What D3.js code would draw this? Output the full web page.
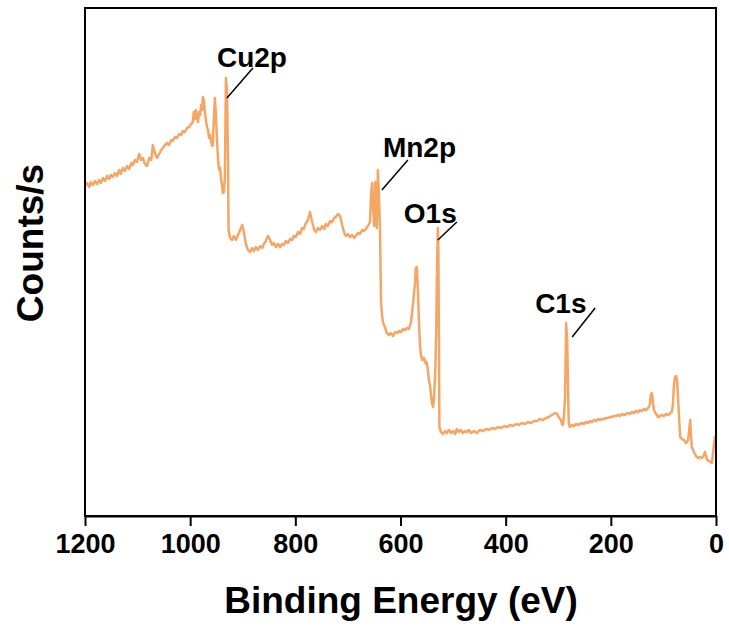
<!DOCTYPE html>
<html><head><meta charset="utf-8">
<script src="https://cdn.jsdelivr.net/npm/d3@7"></script>
<style>body{margin:0;background:#fff}svg{display:block}</style>
</head><body>
<svg id="c" width="729" height="632"></svg>
<script>
// Binding energy (eV)
const energy = [1200,1196,1192,1189,1185,1181,1177,1173,1170,1166,1162,1158,1154,1151,1147,1143,1139,1135,1132,1128,1124,1120,1116,1112,1109,1105,1101,1097,1093,1090,1086,1082,1078,1074,1071,1067,1063,1059,1055,1052,1048,1044,1040,1036,1033,1029,1025,1021,1017,1014,1010,1006,1002,998,995,993,991,989,987,985,983,981,979,977,976,974,972,970,968,966,964,962,960,958,957,955,953,951,949,947,945,943,941,939,938,936,934,932,930,928,927,924,920,917,913,909,905,901,898,894,890,886,882,879,875,871,867,863,860,856,852,848,844,841,837,833,829,825,822,818,814,810,806,803,799,795,791,787,784,780,776,772,768,764,761,757,753,749,745,742,738,734,730,726,723,719,715,711,707,704,700,696,692,688,685,681,677,673,669,666,662,658,656,654,652,650,648,647,645,643,641,639,637,635,633,629,626,622,618,614,610,607,603,599,595,591,588,584,580,576,572,571,569,567,565,563,561,559,555,552,550,548,546,544,542,540,538,536,534,532,531,529,528,527,526,523,519,515,512,508,504,500,496,493,489,485,481,477,474,470,466,460,455,449,443,437,432,426,420,415,409,403,397,392,386,380,375,369,363,358,352,346,340,335,329,323,318,312,306,302,299,295,293,291,289,287,285,283,281,280,278,274,270,266,262,259,255,251,247,243,240,236,232,228,224,221,217,213,209,205,202,198,194,190,186,183,179,175,171,167,164,160,156,152,148,145,141,137,133,129,126,124,122,120,118,114,110,106,103,99,95,91,87,84,82,80,78,76,74,72,70,68,65,61,57,53,51,49,48,46,42,38,34,30,27,25,23,21,19,17,13,10,8,6,4,2,0];
// Intensity (counts/s, arbitrary scale)
const counts = [330,333,329,334,331,335,332,336,333,338,335,340,337,341,339,343,340,346,342,348,345,350,347,353,351,356,354,362,356,358,352,350,358,356,371,363,358,362,366,368,371,373,371,376,375,379,378,382,381,385,384,388,389,392,394,404,397,406,398,394,404,401,411,406,419,416,404,396,389,386,378,381,374,370,371,396,418,401,376,356,346,348,336,329,323,324,338,438,426,356,286,278,276,280,276,281,286,291,284,272,266,264,268,265,269,266,270,268,272,275,280,276,271,273,269,272,269,272,271,275,273,277,276,280,279,284,282,288,287,293,296,304,294,286,284,288,286,290,287,292,290,295,294,298,299,302,300,291,283,280,282,279,281,278,280,283,282,286,285,287,290,294,321,333,306,290,334,311,288,346,321,288,213,200,193,188,183,181,183,180,184,183,185,184,187,186,188,187,194,213,236,248,249,226,196,171,161,156,158,152,154,146,136,131,121,113,109,121,143,186,236,288,266,186,89,84,82,85,83,86,83,85,82,87,84,86,83,85,84,86,83,85,83,86,85,87,86,88,87,89,88,90,89,91,90,92,91,93,92,94,93,95,95,97,96,98,99,101,103,102,99,96,92,91,101,119,193,176,116,93,89,91,90,92,91,92,93,92,94,93,95,94,96,95,97,96,97,97,98,98,99,99,100,100,101,100,102,101,102,103,102,104,103,105,104,106,105,107,106,108,111,121,123,114,106,102,99,100,101,100,102,101,103,104,111,131,139,140,136,116,96,79,77,76,73,76,86,96,84,69,64,60,58,59,58,59,61,64,60,56,55,54,53,61,71,79,79];
const xTicks = [1200,1000,800,600,400,200,0];
const peakNames = ["Cu2p","Mn2p","O1s","C1s"];
const peakEnergy = [932,643,529,285];

const svg = d3.select("#c");
const L=85,R=716,T=8,B=516;
const x = d3.scaleLinear().domain([1200,0]).range([L,R]);
const y = d3.scaleLinear().domain([0,508]).range([B,T]);
const data = energy.map((e,i)=>({e,c:counts[i]}));

svg.append("path").datum(data)
  .attr("fill","none").attr("stroke","#F5A665").attr("stroke-width",2.5)
  .attr("stroke-linejoin","round")
  .attr("d", d3.line().x(d=>x(d.e)).y(d=>y(d.c)));

// frame
svg.append("rect").attr("x",L).attr("y",T).attr("width",R-L).attr("height",B-T)
  .attr("fill","none").attr("stroke","#000").attr("stroke-width",2);

const ax = svg.append("g").attr("transform",`translate(0,${B})`)
  .call(d3.axisBottom(x).tickValues(xTicks).tickSize(10).tickSizeOuter(0).tickFormat(d3.format("d")));
ax.select(".domain").attr("stroke-width",2);
ax.selectAll(".tick line").attr("stroke-width",2);
ax.selectAll(".tick text").attr("font-family","'Liberation Sans',Arial,sans-serif")
  .attr("font-weight","bold").attr("font-size",27).attr("fill","#000").attr("dy",null).attr("y",37);

svg.append("text").attr("x",401).attr("y",613).attr("text-anchor","middle")
  .attr("font-family","'Liberation Sans',Arial,sans-serif").attr("font-weight","bold")
  .attr("font-size",37).text("Binding Energy (eV)");
svg.append("text").attr("transform","translate(43,243) rotate(-90)").attr("text-anchor","middle")
  .attr("font-family","'Liberation Sans',Arial,sans-serif").attr("font-weight","bold")
  .attr("font-size",37).text("Counts/s");

// annotation layout (offsets relative to peak top, in px)
const annLayout = {
  "Cu2p":{s:[1,20],e:[27,-10],t:[-9,-11]},
  "Mn2p":{s:[4,20],e:[30,-10],t:[5,-13]},
  "O1s":{s:[0,12],e:[19,-6],t:[-34,-5]},
  "C1s":{s:[6,14],e:[29,-15],t:[-31,-10]}
};
peakNames.forEach((name,i)=>{
  const near = data.filter(d=>Math.abs(d.e-peakEnergy[i])<=4);
  const top = d3.max(near,d=>d.c);
  const px = x(peakEnergy[i]), py = y(top);
  const a = annLayout[name];
  svg.append("line").attr("x1",px+a.s[0]).attr("y1",py+a.s[1])
    .attr("x2",px+a.e[0]).attr("y2",py+a.e[1]).attr("stroke","#000").attr("stroke-width",1.5);
  svg.append("text").attr("x",px+a.t[0]).attr("y",py+a.t[1])
    .attr("font-family","'Liberation Sans',Arial,sans-serif").attr("font-weight","bold")
    .attr("font-size",28).text(name);
});
</script>
</body></html>
